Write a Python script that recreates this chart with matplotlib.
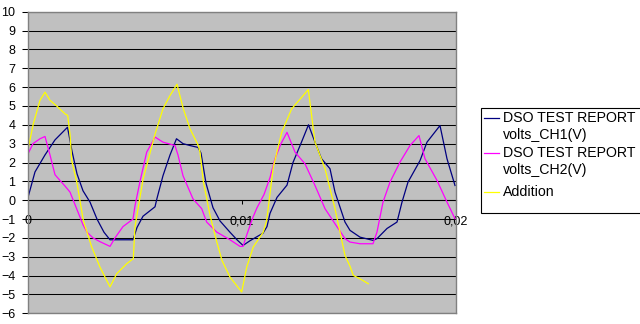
import numpy as np
import matplotlib
matplotlib.use("Agg")
import matplotlib.pyplot as plt
from matplotlib.lines import Line2D
from matplotlib.patches import Rectangle
from matplotlib.ticker import FixedLocator, FuncFormatter

plt.rcParams['font.family'] = ['Liberation Sans', 'DejaVu Sans']

# ---- data (time in ms, values in volts) ----
t_ch1 = [0, 0.327, 0.794, 1.262, 1.846, 2.056, 2.290, 2.570, 2.897, 3.224,
         3.551, 3.832, 4.299, 4.907, 5.093, 5.374, 5.935, 6.028, 6.308, 6.636,
         6.939, 7.243, 7.570, 7.944, 8.084, 8.318, 8.645, 8.972, 9.439, 9.766,
         10.047, 10.374, 10.981, 11.168, 11.308, 11.636, 12.103, 12.383, 12.780, 13.107,
         13.411, 13.715, 14.112, 14.346, 14.813, 15.047, 15.514, 16.121, 16.308, 16.776,
         17.243, 17.477, 17.757, 18.318, 18.645, 19.252, 19.579, 19.953]
v_ch1 = [0.15, 1.5, 2.4, 3.2, 3.87, 2.6, 1.4, 0.5, -0.1, -1.0,
         -1.7, -2.1, -2.1, -2.1, -1.45, -0.85, -0.35, 0.1, 1.3, 2.4,
         3.26, 3.0, 2.9, 2.8, 2.5, 0.9, -0.4, -1.1, -1.7, -2.1,
         -2.4, -2.15, -1.75, -1.4, -0.7, 0.15, 0.8, 2.0, 3.08, 4.0,
         3.08, 2.2, 1.67, 0.43, -1.16, -1.6, -1.96, -2.13, -2.04, -1.5,
         -1.16, -0.1, 0.96, 2.1, 3.08, 3.96, 2.2, 0.78]

t_ch2 = [0, 0.234, 0.561, 0.794, 1.028, 1.262, 1.495, 1.729, 1.963, 2.290,
         2.570, 2.757, 3.037, 3.364, 3.832, 4.065, 4.439, 4.907, 5.000, 5.234,
         5.547, 5.935, 6.308, 6.869, 7.009, 7.243, 7.710, 8.117, 8.350, 8.818,
         9.439, 9.907, 10.047, 10.234, 10.514, 10.701, 11.028, 11.308, 11.542, 11.822,
         12.103, 12.477, 12.944, 13.411, 13.879, 14.346, 14.813, 15.047, 15.514, 16.121,
         16.308, 16.589, 16.916, 17.383, 17.850, 18.271, 18.551, 19.112, 19.579, 19.953]
v_ch2 = [2.46, 3.0, 3.26, 3.38, 2.4, 1.35, 1.05, 0.75, 0.43, -0.5,
         -1.3, -1.7, -2.0, -2.2, -2.45, -2.0, -1.4, -1.0, -0.3, 1.0,
         2.55, 3.35, 3.08, 2.9, 2.4, 1.3, 0.07, -0.45, -1.16, -1.69,
         -2.1, -2.45, -2.45, -1.8, -0.9, -0.4, 0.3, 1.2, 2.2, 3.0,
         3.6, 2.55, 1.93, 0.78, -0.45, -1.25, -2.04, -2.22, -2.31, -2.31,
         -1.69, -0.1, 0.96, 2.02, 2.9, 3.43, 2.2, 1.05, -0.1, -0.98]

t_add = [0, 0.248, 0.561, 0.794, 1.028, 1.341, 1.729, 1.855, 1.963, 2.042,
         2.290, 2.584, 2.977, 3.364, 3.832, 4.145, 4.612, 4.921, 5.000, 5.374,
         5.701, 5.935, 6.308, 6.636, 6.963, 7.257, 7.570, 7.958, 8.037, 8.192,
         8.505, 8.818, 9.065, 9.439, 9.986, 10.220, 10.528, 10.995, 11.154, 11.308,
         11.463, 11.855, 12.322, 12.790, 13.098, 13.411, 13.879, 14.346, 14.813, 15.047,
         15.201, 15.514, 15.902]
v_add = [2.7, 4.05, 5.3, 5.73, 5.3, 5.0, 4.58, 4.5, 3.5, 2.1,
         0.9, -1.07, -2.48, -3.55, -4.6, -3.9, -3.37, -3.1, -1.4, 1.1,
         2.5, 3.5, 4.85, 5.55, 6.15, 4.85, 3.79, 2.9, 2.55, 1.0,
         -0.8, -2.2, -3.2, -4.08, -4.87, -3.55, -2.48, -1.69, -1.07, 0.34,
         1.75, 3.6, 4.85, 5.46, 5.87, 3.08, 1.67, -0.45, -2.93, -3.5,
         -3.99, -4.17, -4.43]

series_labels = ["DSO TEST REPORT\nvolts_CH1(V)", "DSO TEST REPORT\nvolts_CH2(V)", "Addition"]
series_colors = ["#000080", "#FF00FF", "#FFFF00"]
x_ticks = [0, 0.01, 0.02]
x_tick_labels = ["0", "0,01", "0,02"]
y_ticks = list(range(-6, 11))

W, H = 640, 324
fig = plt.figure(figsize=(W / 100, H / 100), dpi=100)
fig.patch.set_facecolor("white")

top_px, bot_px, left_px, right_px = 11.7, 313.3, 28, 456
ax = fig.add_axes([left_px / W, 1 - bot_px / H, (right_px - left_px) / W, (bot_px - top_px) / H])
ax.set_facecolor("#C0C0C0")
ax.set_xlim(0, 0.02)
ax.set_ylim(-6, 10)

ax.set_yticks(y_ticks)
ax.yaxis.grid(True, color="black", lw=0.75)
ax.set_axisbelow(True)
ax.tick_params(axis="y", direction="out", length=4, width=0.75, color="black",
               labelsize=9, pad=5)
ax.set_xticks([])
for s in ax.spines.values():
    s.set_color("#808080")
    s.set_linewidth(1.0)

for t, v, c in zip([t_ch1, t_ch2, t_add], [v_ch1, v_ch2, v_add], series_colors):
    ax.plot(np.array(t) * 1e-3, v, color=c, lw=0.9, solid_joinstyle="round")

# horizontal category axis crossing at y = 0
sec = ax.secondary_xaxis(6 / 16)
sec.spines["bottom"].set_color("#808080")
sec.spines["bottom"].set_linewidth(0.9)
sec.xaxis.set_major_locator(FixedLocator(x_ticks))
sec.xaxis.set_major_formatter(FuncFormatter(lambda x, p: x_tick_labels[p] if p is not None and p < len(x_tick_labels) else ""))
sec.set_xticks(x_ticks, x_tick_labels)
sec.tick_params(axis="x", direction="out", length=3, width=0.75, color="black",
                labelsize=9, pad=8)

# legend drawn in pixel coordinates
lax = fig.add_axes([0, 0, 1, 1], facecolor="none")
lax.set_xlim(0, W)
lax.set_ylim(H, 0)
lax.axis("off")
lax.add_patch(Rectangle((481, 107.5), 170, 105, facecolor="white", edgecolor="black", lw=0.8))
entry_y = [118.3, 153.3, 191.7]
for (lbl, col, y) in zip(series_labels, series_colors, entry_y):
    lax.add_line(Line2D([484, 499], [y, y], color=col, lw=0.9))
    lines = lbl.split("\n")
    for i, ln in enumerate(lines):
        lax.text(503, y + i * 17, ln, fontsize=10.2, va="center", ha="left", color="black")

fig.savefig("out.png", dpi=100, facecolor="white")
